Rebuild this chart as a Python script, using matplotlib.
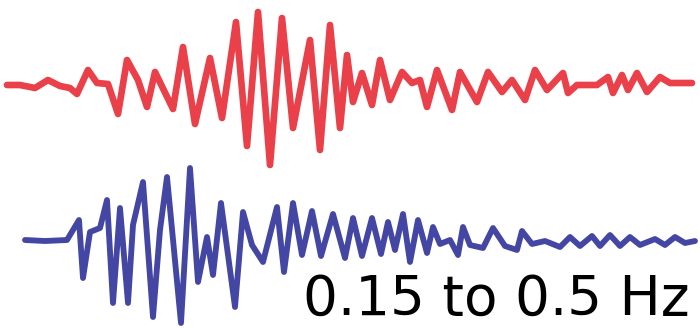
import matplotlib
matplotlib.use("Agg")
import matplotlib.pyplot as plt

# Upper (red) trace: time samples and amplitude relative to its baseline
red_t = [7, 20, 35, 48, 60, 70, 77, 88, 97, 108, 118, 127, 138, 147, 155, 173, 183, 195,
         210, 222, 236, 247, 258, 270, 282, 293, 310, 320, 330, 340, 347, 353, 362, 372,
         380, 390, 402, 412, 420, 427, 437, 452, 460, 477, 488, 502, 512, 525, 535, 547,
         563, 568, 577, 597, 608, 613, 622, 628, 637, 647, 660, 670, 692]
red_y = [85, 85, 88, 80, 86, 88, 94, 70, 83, 84, 114, 60, 80, 107, 72, 109, 47, 124,
         58, 118, 22, 146, 12, 165, 18, 128, 40, 150, 25, 128, 55, 102, 73, 105,
         60, 100, 72, 83, 80, 107, 70, 110, 72, 102, 72, 92, 80, 100, 70, 90,
         73, 93, 85, 85, 77, 93, 75, 90, 73, 92, 77, 83, 83]
red_base = 85
red_amp = [red_base - v for v in red_y]

# Lower (blue) trace
blue_t = [25, 45, 67, 79, 83, 90, 100, 107, 113, 120, 128, 133, 143, 153, 160, 167, 181,
          190, 198, 207, 213, 221, 235, 243, 252, 263, 277, 284, 293, 302, 312, 321, 333,
          345, 353, 362, 372, 381, 388, 395, 403, 410, 418, 427, 433, 440, 450, 458, 463,
          470, 483, 493, 505, 517, 522, 532, 545, 560, 570, 580, 592, 600, 610, 620, 630,
          640, 655, 665, 675, 685, 695]
blue_y = [240, 241, 240, 220, 278, 232, 228, 200, 303, 208, 303, 225, 182, 317, 230, 177, 323,
          168, 282, 237, 275, 203, 307, 212, 245, 262, 207, 272, 203, 255, 211, 256, 214,
          258, 218, 256, 218, 254, 222, 250, 214, 262, 220, 253, 227, 244, 240, 255, 227,
          245, 248, 228, 246, 250, 231, 244, 241, 247, 237, 246, 236, 246, 235, 246, 237,
          245, 239, 245, 237, 243, 241]
blue_base = 241
blue_amp = [blue_base - v for v in blue_y]

label = "0.15 to 0.5 Hz"

fig = plt.figure(figsize=(7.0, 3.28), dpi=100)
ax = fig.add_axes([0, 0, 1, 1])
ax.set_xlim(0, 700)
ax.set_ylim(328, 0)
ax.axis("off")

ax.plot(red_t, [red_base - a for a in red_amp], color="#e8363f", lw=4.8,
        solid_joinstyle="round", solid_capstyle="round", alpha=0.95)
ax.plot(blue_t, [blue_base - a for a in blue_amp], color="#3a3c9e", lw=4.2,
        solid_joinstyle="round", solid_capstyle="round", alpha=0.95)

ax.text(690, 327, label, ha="right", va="bottom", fontsize=39.5,
        family=["DejaVu Sans"], color="black")

fig.savefig("out.png", dpi=100)
